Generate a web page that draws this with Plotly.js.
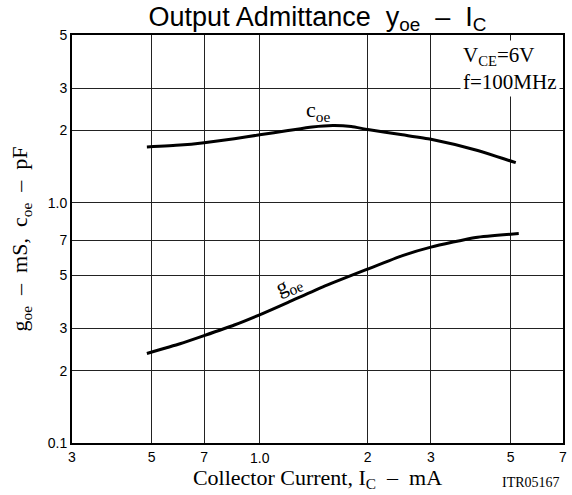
<!DOCTYPE html>
<html>
<head>
<meta charset="utf-8">
<script src="https://cdn.plot.ly/plotly-3.0.1.min.js"></script>
<style>html,body{margin:0;padding:0;background:#fff;}#chart{width:572px;height:495px;}</style>
</head>
<body>
<div id="chart"></div>
<script>
// Collector current (mA) sample points
const currentCoe = [0.485, 0.6, 0.7, 0.85, 1.0, 1.2, 1.4, 1.6, 1.8, 2.0, 2.5, 3.0, 4.0, 5.17];
const coePF      = [1.71, 1.74, 1.78, 1.85, 1.92, 2.00, 2.07, 2.10, 2.08, 2.02, 1.92, 1.84, 1.66, 1.47];
const currentGoe = [0.485, 0.6, 0.7, 0.85, 1.0, 1.2, 1.5, 2.0, 2.5, 3.0, 4.0, 5.27];
const goeMS      = [0.236, 0.259, 0.28, 0.31, 0.342, 0.385, 0.447, 0.53, 0.603, 0.654, 0.718, 0.745];

const xTickVals   = [0.3, 0.5, 0.7, 1, 2, 3, 5, 7];
const xTickLabels = ['3', '5', '7', '1.0', '2', '3', '5', '7'];
const yTickVals   = [0.1, 0.2, 0.3, 0.5, 0.7, 1, 2, 3, 5];
const yTickLabels = ['0.1', '2', '3', '5', '7', '1.0', '2', '3', '5'];

const NB = '\u00a0';
const SANS = 'Liberation Sans, Arial, sans-serif';
const SERIF = 'Liberation Serif, Times New Roman, serif';

const traces = [
  {x: currentCoe, y: coePF, name: 'coe', mode: 'lines', line: {color: '#000', width: 3, shape: 'spline', smoothing: 0.5}, showlegend: false, hoverinfo: 'skip'},
  {x: currentGoe, y: goeMS, name: 'goe', mode: 'lines', line: {color: '#000', width: 3, shape: 'spline', smoothing: 0.5}, showlegend: false, hoverinfo: 'skip'}
];

// "1.0" tick on x-axis sits lower than the others in the reference
const oneIdx = xTickLabels.indexOf('1.0');
const xTickText = xTickLabels.map((t, i) => i === oneIdx ? ' ' : t);

const layout = {
  width: 572, height: 495,
  margin: {l: 72, r: 9, t: 35, b: 52},
  paper_bgcolor: '#fff', plot_bgcolor: '#fff',
  title: {
    text: 'Output Admittance' + NB + NB + 'y<sub>oe</sub>' + NB + NB + '\u2013' + NB + NB + 'I<sub>C</sub>',
    font: {family: SANS, size: 27, color: '#000'},
    x: 0.5, xref: 'paper', xanchor: 'center',
    y: 0.967, yref: 'container', yanchor: 'middle'
  },
  xaxis: {
    type: 'log', range: [Math.log10(0.3), Math.log10(7)],
    tickmode: 'array', tickvals: xTickVals, ticktext: xTickText,
    ticks: '', showgrid: true, gridcolor: '#222', gridwidth: 1,
    showline: true, linecolor: '#000', linewidth: 2, mirror: true,
    zeroline: false,
    tickfont: {family: SANS, size: 14, color: '#000'},
    title: {text: 'Collector Current, I<sub>C</sub>' + NB + NB + '\u2013' + NB + NB + 'mA', font: {family: SERIF, size: 22, color: '#000'}, standoff: 5}
  },
  yaxis: {
    type: 'log', range: [-1, Math.log10(5)],
    tickmode: 'array', tickvals: yTickVals, ticktext: yTickLabels,
    ticks: '', showgrid: true, gridcolor: '#222', gridwidth: 1,
    showline: true, linecolor: '#000', linewidth: 2, mirror: true,
    zeroline: false,
    tickfont: {family: SANS, size: 14, color: '#000'},
    title: {text: 'g<sub>oe</sub>' + NB + NB + '\u2013' + NB + NB + 'mS,' + NB + NB + 'c<sub>oe</sub>' + NB + NB + '\u2013' + NB + NB + 'pF', font: {family: SERIF, size: 22, color: '#000'}, standoff: 14}
  },
  annotations: [
    {text: xTickLabels[oneIdx], xref: 'x', x: Math.log10(xTickVals[oneIdx]), yref: 'paper', y: 0, yanchor: 'middle', yshift: -15,
     showarrow: false, font: {family: SANS, size: 14, color: '#000'}},
    {text: 'V<sub>CE</sub>=6V<br>f=100MHz', xref: 'paper', x: 1, xanchor: 'right', xshift: -3,
     yref: 'paper', y: 1, yanchor: 'top', yshift: -5, align: 'left', showarrow: false,
     bgcolor: '#fff', borderpad: 2, font: {family: SERIF, size: 21, color: '#000'}},
    {text: 'c<sub>oe</sub>', xref: 'x', x: Math.log10(1.45), yref: 'y', y: Math.log10(2.42), showarrow: false,
     font: {family: SERIF, size: 22, color: '#000'}},
    {text: 'g<sub>oe</sub>', xref: 'x', x: Math.log10(1.21), yref: 'y', y: Math.log10(0.455), showarrow: false, textangle: -22,
     font: {family: SERIF, size: 22, color: '#000'}},
    {text: 'ITR05167', xref: 'paper', x: 1, xanchor: 'right', xshift: -1, yref: 'paper', y: 0, yanchor: 'middle', yshift: -39,
     showarrow: false, font: {family: SERIF, size: 14, color: '#000'}}
  ]
};

Plotly.newPlot('chart', traces, layout, {staticPlot: true, displayModeBar: false});
</script>
</body>
</html>
